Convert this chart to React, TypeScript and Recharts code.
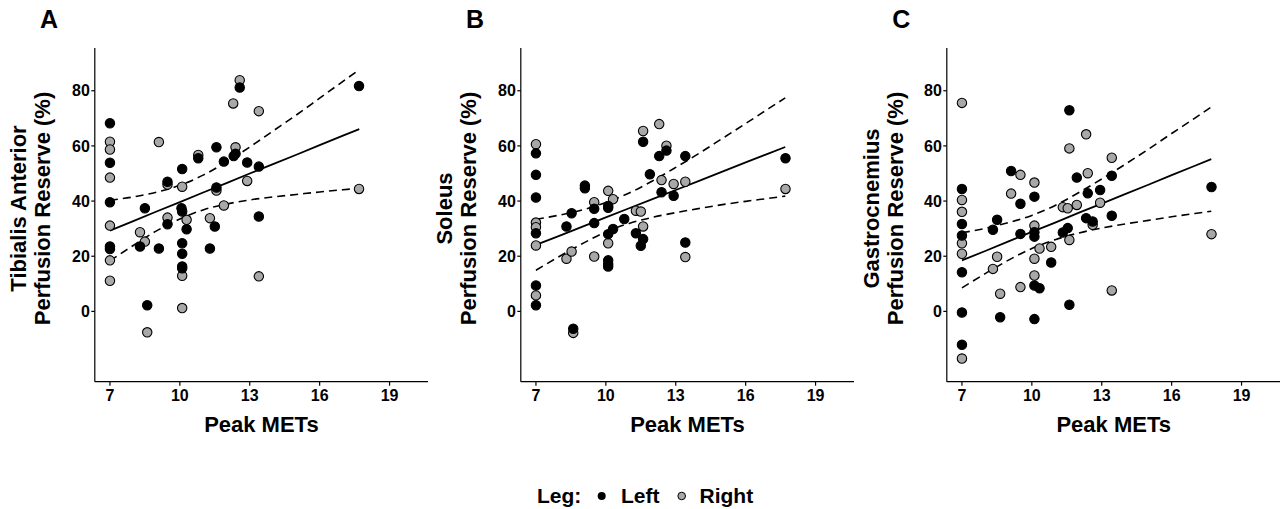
import React from 'react';
import { ComposedChart, Scatter, Line, XAxis, YAxis } from 'recharts';

const FONT = '"Liberation Sans", Arial, Helvetica, sans-serif';
const GREY = '#A8A8A8';

const xTicks = [7, 10, 13, 16, 19];
const yTicks = [0, 20, 40, 60, 80];
const ciX = [7, 8, 9, 10, 11, 12, 13, 14, 15, 16, 17, 17.7];

type Pt = [number, number];

// Panel A: Tibialis Anterior
const taLeft: Pt[] = [
  [7, 68.2], [7, 53.9], [7, 39.6], [7, 23.5], [7, 22.6], [8.29, 23.5], [8.5, 37.4], [8.6, 2.2],
  [9.1, 22.8], [9.47, 47.0], [9.47, 31.6], [10.1, 51.6], [10.07, 37.4], [10.1, 36.2], [10.29, 29.8],
  [10.1, 24.7], [10.1, 20.9], [10.1, 16.3], [10.1, 15.6], [10.79, 55.5], [11.29, 22.8], [11.5, 30.8],
  [11.57, 59.5], [11.57, 44.9], [11.89, 54.3], [12.31, 56.3], [12.39, 57.2], [12.57, 81.2],
  [12.89, 54.0], [13.39, 52.5], [13.39, 34.4], [17.69, 81.7],
];
const taRight: Pt[] = [
  [7, 61.5], [7, 58.7], [7, 48.5], [7, 31.1], [7, 18.5], [7, 11.1], [8.29, 28.7], [8.5, 25.3],
  [8.6, -7.6], [9.1, 61.4], [9.47, 46.0], [9.47, 34.0], [10.1, 45.2], [10.29, 33.2], [10.1, 12.9],
  [10.1, 1.2], [10.79, 56.7], [11.29, 33.8], [11.57, 43.8], [11.89, 38.4], [12.29, 75.4],
  [12.39, 59.5], [12.57, 83.8], [12.89, 47.3], [13.39, 72.6], [13.39, 12.7], [17.69, 44.4],
];
const taFit = [29.3, 32.7, 36.2, 39.6, 43.1, 46.5, 50.0, 53.4, 56.8, 60.3, 63.7, 66.1];
const taUpper = [40.3, 41.5, 43.2, 45.7, 49.4, 54.2, 59.6, 65.4, 71.2, 77.3, 83.4, 87.6];
const taLower = [18.3, 23.9, 29.2, 33.5, 36.8, 38.9, 40.4, 41.5, 42.4, 43.3, 44.1, 44.6];

// Panel B: Soleus
const soLeft: Pt[] = [
  [7, 57.3], [7, 49.5], [7, 41.3], [7, 28.3], [7, 9.4], [7, 2.2], [8.31, 30.8], [8.53, 35.6],
  [8.6, -6.3], [9.1, 45.6], [9.1, 44.6], [9.5, 37.2], [9.5, 32.0], [10.1, 38.2], [10.1, 37.6],
  [10.31, 29.9], [10.1, 28.0], [10.1, 18.5], [10.1, 17.2], [10.1, 16.3], [10.79, 33.5], [11.29, 28.3],
  [11.6, 26.2], [11.5, 23.8], [11.6, 61.5], [11.89, 49.7], [12.6, 58.3], [12.29, 56.3], [12.39, 43.2],
  [12.91, 41.9], [13.41, 56.3], [13.41, 25.0], [17.71, 55.5],
];
const soRight: Pt[] = [
  [7, 60.6], [7, 32.2], [7, 30.5], [7, 23.9], [7, 5.8], [8.31, 19.1], [8.53, 21.7], [8.6, -7.8],
  [9.5, 39.6], [9.5, 19.9], [10.1, 43.7], [10.31, 40.7], [10.1, 24.7], [11.29, 36.5], [11.5, 36.2],
  [11.6, 30.8], [11.6, 65.4], [12.29, 67.9], [12.6, 60.1], [12.39, 47.6], [12.91, 46.2],
  [13.41, 47.0], [13.41, 19.7], [17.71, 44.4],
];
const soFit = [24.1, 27.4, 30.7, 34.1, 37.4, 40.7, 44.0, 47.3, 50.7, 54.0, 57.3, 59.6];
const soUpper = [33.4, 34.9, 36.8, 39.5, 42.9, 47.3, 52.2, 57.3, 62.7, 68.1, 73.6, 77.4];
const soLower = [14.9, 19.9, 24.6, 28.8, 31.9, 34.1, 35.8, 37.3, 38.7, 39.9, 41.0, 41.8];

// Panel C: Gastrocnemius
const gaLeft: Pt[] = [
  [7, 44.4], [7, 31.7], [7, 27.5], [7, 14.2], [7, -0.4], [7, -12.1], [8.33, 29.6], [8.51, 33.2],
  [8.64, -2.1], [9.11, 50.9], [9.51, 39.0], [9.51, 28.1], [10.11, 41.6], [10.11, 28.7], [10.11, 27.1],
  [10.11, 9.4], [10.33, 8.4], [10.11, -2.8], [10.83, 17.7], [11.33, 28.6], [11.54, 30.2],
  [11.61, 72.9], [11.61, 2.4], [11.93, 48.5], [12.4, 42.8], [12.33, 33.8], [12.61, 32.6],
  [12.93, 44.0], [13.43, 49.2], [13.43, 34.7], [17.71, 45.1],
];
const gaRight: Pt[] = [
  [7, 75.6], [7, 40.4], [7, 36.1], [7, 24.7], [7, 20.9], [7, -17.1], [8.33, 15.4], [8.51, 19.8],
  [8.64, 6.4], [9.11, 42.7], [9.51, 49.5], [9.51, 8.8], [10.11, 46.7], [10.11, 31.1], [10.11, 19.1],
  [10.11, 13.0], [10.33, 22.8], [10.83, 23.4], [11.33, 37.8], [11.54, 37.4], [11.61, 25.9],
  [11.61, 59.1], [11.93, 38.6], [12.33, 64.2], [12.4, 50.1], [12.61, 31.4], [12.93, 39.4],
  [13.43, 55.7], [13.43, 7.6], [17.71, 28.0],
];
const gaFit = [18.5, 21.9, 25.4, 28.8, 32.2, 35.7, 39.1, 42.5, 45.9, 49.4, 52.8, 55.2];
const gaUpper = [28.5, 30.1, 32.2, 34.8, 38.4, 43.0, 48.0, 53.3, 58.8, 64.5, 70.1, 74.1];
const gaLower = [8.5, 13.7, 18.6, 22.8, 26.0, 28.4, 30.2, 31.7, 33.0, 34.3, 35.5, 36.3];

const toPts = (arr: Pt[]) => arr.map(([x, y]) => ({ x, y }));
const toCurve = (ys: number[]) => ciX.map((x, i) => ({ x, y: ys[i] }));

const makeDot = (fill: string) => (props: any) =>
  props.cx == null ? <g /> : (
    <circle cx={props.cx} cy={props.cy} r={4.7} fill={fill} stroke="#000" strokeWidth={1.1} />
  );
const blackDot = makeDot('#000');
const greyDot = makeDot(GREY);

const tickStyle = { fill: '#000', fontSize: 16, fontWeight: 700, fontFamily: FONT };

const PANEL_W = 428;
const PLOT_LEFT = 94.8;
const PLOT_W = PANEL_W - PLOT_LEFT;
const offsets = [0, 426, 852.3];

function Panel(p: { left: Pt[]; right: Pt[]; fit: number[]; upper: number[]; lower: number[]; x0: number }) {
  return (
    <div style={{ position: 'absolute', left: p.x0, top: 0 }}>
      <ComposedChart width={PANEL_W} height={509} margin={{ top: 48, right: 0, bottom: 97.3, left: 44.8 }}>
        <XAxis
          type="number"
          dataKey="x"
          domain={[6.35, 20.65]}
          ticks={xTicks}
          height={30}
          stroke="#000"
          strokeWidth={1.2}
          tickSize={4}
          tickMargin={4}
          tick={tickStyle}
          allowDataOverflow
        />
        <YAxis
          type="number"
          dataKey="y"
          domain={[-25.5, 95.5]}
          ticks={yTicks}
          width={50}
          stroke="#000"
          strokeWidth={1.2}
          tickSize={3.5}
          tickMargin={1.5}
          tick={tickStyle}
          allowDataOverflow
        />
        <Scatter data={toPts(p.right)} shape={greyDot} isAnimationActive={false} />
        <Scatter data={toPts(p.left)} shape={blackDot} isAnimationActive={false} />
        <Line data={toCurve(p.fit)} dataKey="y" type="linear" stroke="#000" strokeWidth={1.8} dot={false} activeDot={false} isAnimationActive={false} />
        <Line data={toCurve(p.upper)} dataKey="y" type="monotone" stroke="#000" strokeWidth={1.6} strokeDasharray="8 5" dot={false} activeDot={false} isAnimationActive={false} />
        <Line data={toCurve(p.lower)} dataKey="y" type="monotone" stroke="#000" strokeWidth={1.6} strokeDasharray="8 5" dot={false} activeDot={false} isAnimationActive={false} />
      </ComposedChart>
    </div>
  );
}

const letters = ['A', 'B', 'C'];
const titles: [string, string][] = [
  ['Tibialis Anterior', 'Perfusion Reserve (%)'],
  ['Soleus', 'Perfusion Reserve (%)'],
  ['Gastrocnemius', 'Perfusion Reserve (%)'],
];
const xTitle = 'Peak METs';

export default function App() {
  const panels = [
    { left: taLeft, right: taRight, fit: taFit, upper: taUpper, lower: taLower },
    { left: soLeft, right: soRight, fit: soFit, upper: soUpper, lower: soLower },
    { left: gaLeft, right: gaRight, fit: gaFit, upper: gaUpper, lower: gaLower },
  ];
  const yMid = 208.5;
  return (
    <div style={{ position: 'absolute', left: 0, top: 0, width: 1281, height: 509, background: '#fff', overflow: 'hidden' }}>
      {panels.map((d, i) => (
        <Panel key={i} {...d} x0={offsets[i]} />
      ))}
      <svg width={1281} height={509} style={{ position: 'absolute', left: 0, top: 0, pointerEvents: 'none' }}>
        <g fontFamily={FONT} fontWeight={700} fill="#000">
          {offsets.map((o, i) => (
            <g key={i}>
              <text x={o + 49} y={28} fontSize={25} textAnchor="middle">{letters[i]}</text>
              <text transform={`translate(${o + 18.5},${yMid}) rotate(-90)`} dy="0.35em" fontSize={22} textAnchor="middle">{titles[i][0]}</text>
              <text transform={`translate(${o + 42.7},${yMid}) rotate(-90)`} dy="0.35em" fontSize={22} textAnchor="middle">{titles[i][1]}</text>
              <text x={o + PLOT_LEFT + PLOT_W / 2} y={432} fontSize={22} textAnchor="middle">{xTitle}</text>
            </g>
          ))}
          <text x={537} y={503} fontSize={21}>Leg:</text>
          <circle cx={601.7} cy={496} r={4} fill="#000" />
          <text x={621} y={503} fontSize={21}>Left</text>
          <circle cx={681.7} cy={496} r={3.8} fill={GREY} stroke="#000" strokeWidth={1} />
          <text x={699.5} y={503} fontSize={21}>Right</text>
        </g>
      </svg>
    </div>
  );
}
